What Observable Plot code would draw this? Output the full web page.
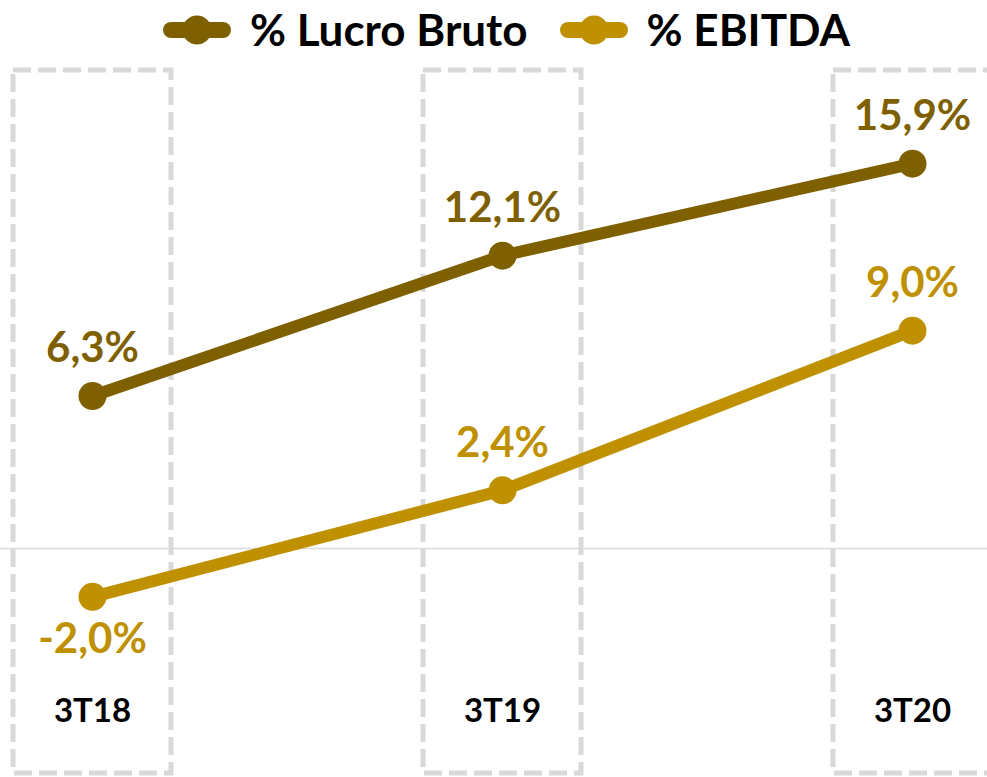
<!DOCTYPE html>
<html>
<head>
<meta charset="utf-8">
<script src="https://cdn.jsdelivr.net/npm/d3@7"></script>
<script src="https://cdn.jsdelivr.net/npm/@observablehq/plot@0.6"></script>
<style>
  html, body { margin: 0; padding: 0; background: #fff; }
  body { width: 987px; height: 777px; overflow: hidden; font-family: Lato, "Open Sans", sans-serif; }
  #legend { height: 60px; display: flex; justify-content: center; align-items: center; gap: 32px; font-weight: 700; font-size: 44px; color: #000; padding-left: 26px; box-sizing: border-box; }
  .item { display: flex; align-items: center; gap: 19px; }
  .item span { position: relative; top: -1px; }
  #chart svg { display: block; }
</style>
</head>
<body>
<div id="legend"></div>
<div id="chart"></div>
<script>
const categories = ["3T18", "3T19", "3T20"];
const lucroBruto = [6.3, 12.1, 15.9];
const ebitda = [-2.0, 2.4, 9.0];
const seriesNames = ["% Lucro Bruto", "% EBITDA"];
const seriesColors = ["#7f6000", "#bf9000"];

const data = [];
categories.forEach((c, i) => {
  data.push({cat: c, series: seriesNames[0], value: lucroBruto[i]});
  data.push({cat: c, series: seriesNames[1], value: ebitda[i]});
});
const fmt = v => v.toFixed(1).replace(".", ",") + "%";

// legend
const legend = document.getElementById("legend");
seriesNames.forEach((name, i) => {
  const it = document.createElement("div");
  it.className = "item";
  it.innerHTML = `<svg width="68" height="30"><line x1="8" y1="15" x2="60" y2="15" stroke="${seriesColors[i]}" stroke-width="16" stroke-linecap="round"/><circle cx="34" cy="15" r="14.5" fill="${seriesColors[i]}"/></svg><span>${name}</span>`;
  legend.appendChild(it);
});

const chart = Plot.plot({
  width: 987,
  height: 717,
  marginLeft: 0,
  marginRight: 0,
  marginTop: 10,
  marginBottom: 4,
  style: {fontFamily: "Lato, 'Open Sans', sans-serif", background: "#fff"},
  x: {type: "band", domain: categories, range: [13, 991], paddingInner: 0.615, paddingOuter: 0, axis: null},
  y: {domain: [-9.30, 19.75], axis: null},
  color: {domain: seriesNames, range: seriesColors},
  marks: [
    Plot.cell(categories, {x: d => d, fill: "none", stroke: "#d9d9d9", strokeWidth: 5, strokeDasharray: "18,7"}),
    Plot.ruleY([0], {stroke: "#d9d9d9", strokeWidth: 1.5}),
    Plot.line(data, {x: "cat", y: "value", z: "series", stroke: "series", strokeWidth: 12, curve: "linear"}),
    Plot.dot(data, {x: "cat", y: "value", fill: "series", r: 14, stroke: "none"}),
    Plot.text(data.filter(d => d.value >= 0), {x: "cat", y: "value", text: d => fmt(d.value), fill: "series", dy: -47, fontSize: 42, fontWeight: 700}),
    Plot.text(data.filter(d => d.value < 0), {x: "cat", y: "value", text: d => fmt(d.value), fill: "series", dy: 43, fontSize: 42, fontWeight: 700}),
    Plot.axisX({domain: categories, anchor: "bottom", tickSize: 0, dy: -84, fontSize: 33, fontWeight: 700, color: "#000", label: null})
  ]
});
document.getElementById("chart").appendChild(chart);
</script>
</body>
</html>
